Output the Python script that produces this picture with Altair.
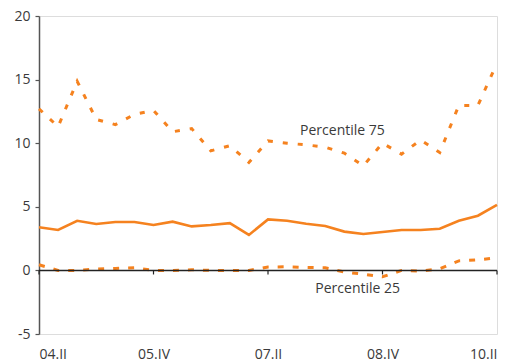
import altair as alt
import pandas as pd

quarter_labels = ["04.II", "05.IV", "07.II", "08.IV", "10.II"]
label_idx = [0, 6, 12, 18, 24]

median = [3.39, 3.18, 3.9, 3.65, 3.8, 3.8, 3.57, 3.83, 3.46, 3.57, 3.72, 2.79,
          4.01, 3.9, 3.67, 3.49, 3.05, 2.86, 3.02, 3.18, 3.18, 3.28, 3.9, 4.3, 5.16]
p75 = [12.7, 11.3, 14.87, 11.87, 11.46, 12.27, 12.58, 10.9, 11.15, 9.4, 9.8, 8.49,
       10.18, 10.0, 9.87, 9.69, 9.22, 8.23, 10.0, 9.14, 10.26, 9.27, 12.97, 12.97, 16.3]
p25 = [0.44, 0.0, 0.0, 0.1, 0.15, 0.2, 0.0, 0.0, 0.05, 0.0, 0.0, 0.0,
       0.26, 0.29, 0.23, 0.2, -0.13, -0.3, -0.5, 0.0, -0.05, 0.13, 0.75, 0.83, 1.0]

n = len(median)
df = pd.DataFrame({"idx": list(range(n)), "median": median, "p75": p75, "p25": p25})

ORANGE = "#F5821F"
FONT = "Open Sans"
TEXT = "#3a3a3a"

labels_map = "{" + ",".join(f"'{i}':'{l}'" for i, l in zip(label_idx, quarter_labels)) + "}"

xscale = alt.Scale(domain=[0, n - 1], nice=False, zero=False)
yscale = alt.Scale(domain=[-5, 20], nice=False)

xaxis = alt.Axis(values=label_idx, labelExpr=f"{labels_map}[''+datum.value]",
                 domain=False, ticks=False, grid=False, labelPadding=13,
                 labelFontSize=14, labelColor=TEXT, labelFont=FONT, title=None)
yaxis = alt.Axis(values=[-5, 0, 5, 10, 15, 20], labelExpr="''+datum.value",
                 grid=False, domainColor="#555555",
                 domainWidth=1.5, tickColor="#555555", tickSize=4, tickWidth=1.2,
                 labelPadding=5, labelFontSize=14, labelColor=TEXT, labelFont=FONT,
                 title=None)

base = alt.Chart(df)

line75 = base.mark_line(color=ORANGE, strokeWidth=3, strokeDash=[5, 10]).encode(
    x=alt.X("idx:Q", scale=xscale, axis=xaxis),
    y=alt.Y("p75:Q", scale=yscale, axis=yaxis),
)
line25 = base.mark_line(color=ORANGE, strokeWidth=3, strokeDash=[6, 9]).encode(
    x=alt.X("idx:Q", scale=xscale),
    y=alt.Y("p25:Q", scale=yscale),
)
linemed = base.mark_line(color=ORANGE, strokeWidth=2.6).encode(
    x=alt.X("idx:Q", scale=xscale),
    y=alt.Y("median:Q", scale=yscale),
)

zero = alt.Chart(pd.DataFrame({"a": [0]})).mark_rule(color="#222222", strokeWidth=1.5).encode(
    x=alt.datum(0), x2=alt.datum(n - 1), y=alt.datum(0)
)
ticks_df = pd.DataFrame({"idx": label_idx})
zticks = alt.Chart(ticks_df).mark_rule(color="#222222", strokeWidth=1.2).encode(
    x=alt.X("idx:Q", scale=xscale), y=alt.datum(0), y2=alt.datum(-0.32)
)

ann_df = pd.DataFrame({"t": ["Percentile 75", "Percentile 25"],
                       "x": [15.9, 16.7], "y": [10.98, -1.45]})
ann = alt.Chart(ann_df).mark_text(font=FONT, fontSize=14, color=TEXT).encode(
    x=alt.X("x:Q", scale=xscale), y=alt.Y("y:Q", scale=yscale), text="t:N"
)

chart = alt.layer(line75, line25, zero, zticks, linemed, ann).properties(
    width=458, height=318,
    autosize=alt.AutoSizeParams(type="none"),
    padding={"left": 31, "top": 8, "right": 11, "bottom": 28},
).configure_view(stroke=None).configure(background="white")

chart.save("out.html", embed_options={"renderer": "svg", "actions": False})
